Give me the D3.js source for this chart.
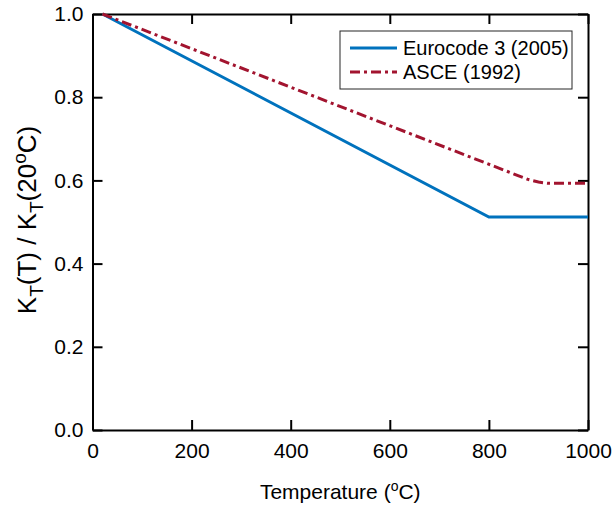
<!DOCTYPE html>
<html>
<head>
<meta charset="utf-8">
<script src="https://cdn.jsdelivr.net/npm/d3@7"></script>
<style>
  body { margin: 0; background: #fff; }
  text { font-family: "Liberation Sans", Arial, sans-serif; fill: #000; }
</style>
</head>
<body>
<div id="chart"></div>
<script>
// values (ratio to 20 C)
const xTicks = [0, 200, 400, 600, 800, 1000];
const yTicks = [0, 0.2, 0.4, 0.6, 0.8, 1.0];

const euroTemp = [20, 800, 1000];
const euroRatio = [1.0, 0.512, 0.512];

const asceTemp = [20, 860, 880, 900, 920, 1000];
const asceRatio = [1.0, 0.611, 0.602, 0.596, 0.593, 0.593];

const seriesNames = ['Eurocode 3 (2005)', 'ASCE (1992)'];
const seriesColors = ['#0072BD', '#A2142F'];

const width = 612;
const height = 506;
const margin = { top: 14, right: 24, bottom: 76, left: 92.5 };

const svg = d3.select('#chart')
  .append('svg')
  .attr('width', width)
  .attr('height', height);

const x = d3.scaleLinear().domain([0, 1000]).range([margin.left, width - margin.right]);
const y = d3.scaleLinear().domain([0, 1]).range([height - margin.bottom, margin.top]);

const fmtX = d3.format('d');
const fmtY = d3.format('.1f');

// axes, ticks pointing inward on all four sides
const styleAxis = (g) => {
  g.selectAll('path, line').attr('stroke', '#000').attr('stroke-width', 2);
  g.selectAll('text')
    .style('font-family', '"Liberation Sans", Arial, sans-serif')
    .style('font-size', '21px')
    .attr('fill', '#000');
};

svg.append('g')
  .attr('transform', `translate(0,${y(0)})`)
  .call(d3.axisBottom(x).tickValues(xTicks).tickSize(-10).tickSizeOuter(0).tickPadding(13).tickFormat(fmtX))
  .call(styleAxis);

svg.append('g')
  .attr('transform', `translate(0,${y(1)})`)
  .call(d3.axisTop(x).tickValues(xTicks).tickSize(-10).tickSizeOuter(0).tickFormat(''))
  .call(styleAxis);

svg.append('g')
  .attr('transform', `translate(${x(0)},0)`)
  .call(d3.axisLeft(y).tickValues(yTicks).tickSize(-10).tickSizeOuter(0).tickPadding(9).tickFormat(fmtY))
  .call(styleAxis);

svg.append('g')
  .attr('transform', `translate(${x(1000)},0)`)
  .call(d3.axisRight(y).tickValues(yTicks).tickSize(-10).tickSizeOuter(0).tickFormat(''))
  .call(styleAxis);

// curves
const line = d3.line()
  .x(d => x(d[0]))
  .y(d => y(d[1]));

const euroData = euroTemp.map((t, i) => [t, euroRatio[i]]);
const asceData = asceTemp.map((t, i) => [t, asceRatio[i]]);

svg.append('path')
  .datum(euroData)
  .attr('d', line)
  .attr('fill', 'none')
  .attr('stroke', seriesColors[0])
  .attr('stroke-width', 3);

svg.append('path')
  .datum(asceData)
  .attr('d', line)
  .attr('fill', 'none')
  .attr('stroke', seriesColors[1])
  .attr('stroke-width', 3)
  .attr('stroke-dasharray', '10,4,3,4');

// axis titles
const xLabel = svg.append('text')
  .attr('x', (x(0) + x(1000)) / 2)
  .attr('y', 499)
  .attr('text-anchor', 'middle')
  .style('font-size', '21px');
xLabel.append('tspan').text('Temperature (');
xLabel.append('tspan').attr('dy', -8).style('font-size', '14px').text('o');
xLabel.append('tspan').attr('dy', 8).text('C)');

const yLabel = svg.append('text')
  .attr('transform', `translate(36,220) rotate(-90)`)
  .attr('text-anchor', 'middle')
  .style('font-size', '26px');
yLabel.append('tspan').text('K');
yLabel.append('tspan').attr('dy', 7).style('font-size', '19px').text('T');
yLabel.append('tspan').attr('dy', -7).text('(T) / K');
yLabel.append('tspan').attr('dy', 7).style('font-size', '19px').text('T');
yLabel.append('tspan').attr('dy', -7).text('(20');
yLabel.append('tspan').attr('dy', -10).style('font-size', '19px').text('o');
yLabel.append('tspan').attr('dy', 10).text('C)');

// legend
const legend = svg.append('g').attr('transform', 'translate(340,31)');

legend.append('rect')
  .attr('width', 232)
  .attr('height', 58)
  .attr('fill', '#fff')
  .attr('stroke', '#262626')
  .attr('stroke-width', 1);

seriesNames.forEach((name, i) => {
  const row = legend.append('g').attr('transform', `translate(0,${17 + i * 24})`);
  row.append('line')
    .attr('x1', 10)
    .attr('x2', 57)
    .attr('stroke', seriesColors[i])
    .attr('stroke-width', 3)
    .attr('stroke-dasharray', i === 1 ? '10,4,3,4' : null);
  row.append('text')
    .attr('x', 63)
    .attr('dy', '0.35em')
    .style('font-size', '20px')
    .text(name);
});
</script>
</body>
</html>
